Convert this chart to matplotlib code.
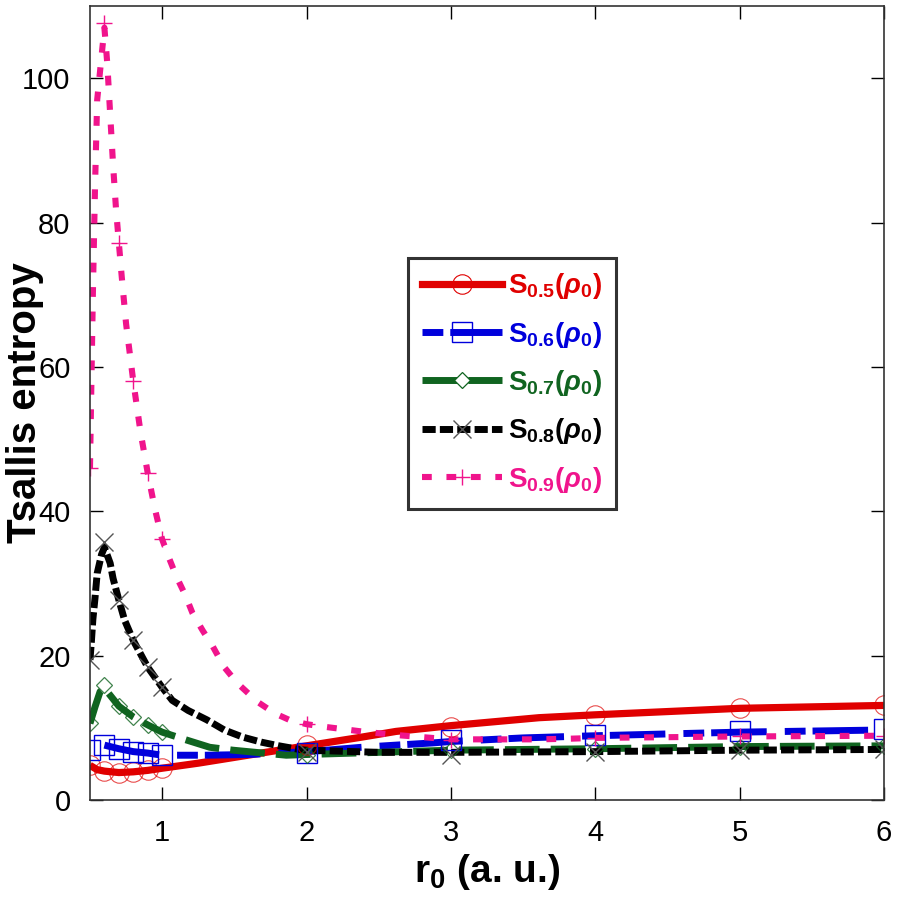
import matplotlib
matplotlib.use('Agg')
import matplotlib.pyplot as plt

# marker positions (a. u.)
r_mark = [0.5, 0.6, 0.7, 0.8, 0.9, 1.0, 2, 3, 4, 5, 6]
s05_mark = [4.8, 4.0, 3.8, 3.9, 4.1, 4.4, 7.6, 10.1, 11.8, 12.7, 13.1]
s06_mark = [6.9, 7.6, 7.1, 6.7, 6.5, 6.2, 6.5, 8.3, 9.0, 9.5, 9.9]
s07_mark = [10.6, 15.9, 13.0, 11.5, 10.4, 9.4, 6.3, 6.9, 7.1, 7.4, 7.5]
s08_mark = [19.4, 35.7, 27.7, 22.1, 18.4, 15.6, 6.6, 6.2, 6.6, 6.9, 7.1]
s09_mark = [46.0, 107.6, 77.2, 58.0, 45.3, 36.1, 10.5, 8.3, 8.6, 8.8, 8.9]

# curves
r05 = [0.5, 0.55, 0.6, 0.7, 0.8, 0.9, 1.0, 1.25, 1.5, 1.81, 2.0, 2.38, 2.62, 3.0, 3.61, 4.0, 5.0, 6.0]
s05 = [4.8, 4.2, 4.0, 3.8, 3.9, 4.1, 4.4, 5.1, 5.9, 6.9, 7.5, 8.7, 9.5, 10.3, 11.4, 11.8, 12.7, 13.1]

r06 = [0.6, 0.7, 0.8, 0.9, 1.0, 1.3, 1.6, 1.81, 2.0, 2.14, 2.38, 2.62, 2.87, 3.0, 3.5, 4.0, 5.0, 6.0]
s06 = [7.6, 7.1, 6.7, 6.5, 6.2, 6.2, 6.3, 6.5, 6.7, 6.9, 7.3, 7.6, 7.9, 8.1, 8.6, 8.9, 9.4, 9.7]

r07 = [0.5, 0.535, 0.57, 0.6, 0.7, 0.8, 0.9, 1.0, 1.17, 1.33, 1.49, 1.7, 1.86, 2.0, 2.5, 3.0, 4.0, 5.0, 6.0]
s07 = [10.6, 12.9, 15.0, 15.5, 13.0, 11.5, 10.4, 9.4, 8.3, 7.3, 6.9, 6.5, 6.2, 6.3, 6.6, 6.9, 7.1, 7.4, 7.5]

r08 = [0.5, 0.51, 0.52, 0.535, 0.55, 0.58, 0.6, 0.64, 0.66, 0.7, 0.74, 0.8, 0.9, 1.0, 1.07,
       1.18, 1.31, 1.43, 1.56, 1.69, 1.81, 1.95, 2.0, 2.5, 3.0, 4.0, 5.0, 6.0]
s08 = [19.4, 22.0, 25.0, 28.0, 31.4, 34.0, 35.0, 32.8, 30.7, 27.7, 24.9, 22.1, 18.4, 15.6, 13.8,
       12.4, 11.1, 9.7, 8.7, 8.0, 7.5, 7.0, 6.9, 6.6, 6.6, 6.7, 6.9, 7.0]

r09 = [0.5, 0.52, 0.535, 0.55, 0.58, 0.6, 0.62, 0.64, 0.66, 0.68, 0.7, 0.72, 0.75, 0.8, 0.85,
       0.9, 0.95, 1.0, 1.05, 1.1, 1.16, 1.21, 1.28, 1.35, 1.43, 1.52, 1.66, 1.78, 1.88, 2.0,
       2.14, 2.38, 2.62, 2.87, 3.0, 3.36, 3.61, 3.84, 4.0, 5.0, 6.0]
s09 = [46.0, 70.0, 85.0, 97.0, 103.0, 107.0, 102.0, 95.0, 88.0, 82.0, 77.2, 72.5, 66.0, 58.0, 51.0,
       45.3, 40.3, 36.1, 33.4, 30.9, 28.4, 25.9, 23.5, 21.3, 18.4, 16.2, 13.6, 12.0, 11.1, 10.5,
       10.1, 9.5, 9.0, 8.6, 8.4, 8.4, 8.4, 8.5, 8.6, 8.8, 8.9]

labels = [r'$\mathrm{S}_{0.5}(\rho_0)$', r'$\mathrm{S}_{0.6}(\rho_0)$', r'$\mathrm{S}_{0.7}(\rho_0)$',
          r'$\mathrm{S}_{0.8}(\rho_0)$', r'$\mathrm{S}_{0.9}(\rho_0)$']

plt.rcParams['font.family'] = ['Liberation Sans', 'DejaVu Sans']
plt.rcParams['mathtext.fontset'] = 'custom'
plt.rcParams['mathtext.rm'] = 'Liberation Sans:bold'
plt.rcParams['mathtext.bf'] = 'Liberation Sans:bold'
plt.rcParams['mathtext.it'] = 'Liberation Sans:italic:bold'

fig = plt.figure(figsize=(8.97, 9.10), dpi=100)
ax = fig.add_axes([0.1003, 0.1209, 0.8852, 0.8725])

red = '#e00000'
blue = '#0000dc'
green = '#106420'
black = '#000000'
pink = '#f0148c'

# lines
ax.plot(r05, s05, color=red, lw=5.2, solid_capstyle='butt')
ax.plot(r06, s06, color=blue, lw=5.0, dashes=(8, 2.6, 3, 1))
ax.plot(r07, s07, color=green, lw=5.0, dashes=(5, 1.6))
ax.plot(r08, s08, color=black, lw=5.0, dashes=(1.9, 0.6))
ax.plot(r09, s09, color=pink, lw=4.4, dashes=(1.6, 2.4))

# markers
ax.plot(r_mark, s05_mark, 'o', ms=14, mfc='none', mec=red, mew=0.8, alpha=0.7)
ax.plot(r_mark, s06_mark, 's', ms=15, mfc='none', mec=blue, mew=1.0)
ax.plot(r_mark, s07_mark, 'D', ms=8, mfc='none', mec=green, mew=0.9, alpha=0.8)
ax.plot(r_mark, s08_mark, 'x', ms=13, mec='#555555', mew=1.0)
ax.plot(r_mark, s09_mark, '+', ms=12, mec=pink, mew=1.0)

# legend handles: line + one marker
h1, = ax.plot([], [], color=red, lw=5.2, marker='o', ms=14, mfc='none', mec=red, mew=0.8)
h2, = ax.plot([], [], color=blue, lw=5.0, dashes=(3, 1, 8, 2.6), marker='s', ms=15, mfc='none', mec=blue, mew=1.0)
h3, = ax.plot([], [], color=green, lw=5.0, dashes=(5, 1.6), marker='D', ms=8, mfc='white', mec=green, mew=0.9)
h4, = ax.plot([], [], color=black, lw=5.0, dashes=(1.9, 0.6), marker='x', ms=13, mec='#555555', mew=1.0)
h5, = ax.plot([], [], color=pink, lw=4.4, dashes=(1.6, 2.4), marker='+', ms=12, mec=pink, mew=1.0)

leg = ax.legend([h1, h2, h3, h4, h5], labels, loc='center', bbox_to_anchor=(0.531, 0.525),
                fontsize=20, handlelength=2.9, handletextpad=0.2, labelspacing=0.66,
                borderpad=0.5, borderaxespad=0, numpoints=1, fancybox=False,
                edgecolor='black', labelcolor='linecolor')
leg.get_frame().set_linewidth(2.2)

ax.set_xlim(0.5, 6)
ax.set_ylim(0, 110)
ax.set_xticks([1, 2, 3, 4, 5, 6])
ax.set_yticks([0, 20, 40, 60, 80, 100])
ax.tick_params(direction='in', length=9.5, width=1.0, top=True, right=True,
               labelsize=21, pad=14)
for s in ax.spines.values():
    s.set_linewidth(1.2)
    s.set_color('#333333')

ax.set_xlabel(r'$\mathrm{r}_0$ (a. u.)', fontsize=28, fontweight='bold', labelpad=3)
ax.set_ylabel('Tsallis entropy', fontsize=29, fontweight='bold')
ax.yaxis.set_label_coords(-0.058, 0.5)

fig.savefig('out.png', dpi=100)
